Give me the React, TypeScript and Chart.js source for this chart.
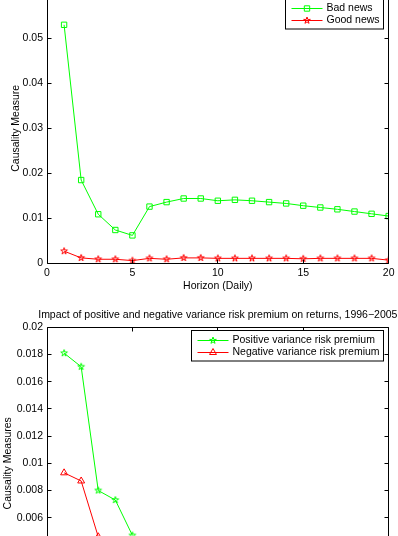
import React, { useEffect, useRef } from "react";
import { Chart, registerables } from "chart.js";

Chart.register(...registerables);

// ---------- data ----------
const horizon = [1, 2, 3, 4, 5, 6, 7, 8, 9, 10, 11, 12, 13, 14, 15, 16, 17, 18, 19, 20];
const badNews = [0.053, 0.0185, 0.0109, 0.0074, 0.0062, 0.0126, 0.0136, 0.0144, 0.0144, 0.0139, 0.0141, 0.0139, 0.0136, 0.0133, 0.0128, 0.0124, 0.012, 0.0115, 0.011, 0.0105];
const goodNews = [0.0027, 0.0012, 0.0009, 0.0009, 0.0006, 0.0011, 0.0009, 0.0012, 0.0012, 0.0011, 0.0011, 0.0011, 0.0011, 0.0011, 0.001, 0.0011, 0.0011, 0.0011, 0.0011, 0.0007];

const horizonPos = [1, 2, 3, 4, 5];
const positiveVRP = [0.0181, 0.0171, 0.008, 0.0073, 0.0047];
const horizonNeg = [1, 2, 3];
const negativeVRP = [0.0093, 0.0087, 0.0046];

const topLabels = { y: "Causality Measure", x: "Horizon (Daily)", series: ["Bad news", "Good news"] };
const bottomLabels = {
  title: "Impact of positive and negative variance risk premium on returns, 1996\u22122005",
  y: "Causality Measures",
  x: "Horizon (Daily)",
  series: ["Positive variance risk premium", "Negative variance risk premium"],
};

// ---------- styling ----------
const FONT = "'Liberation Sans', Arial, Helvetica, sans-serif";
const FS = 10.5;
const GREEN = "#00ff00";
const RED = "#ff0000";
const INK = "#000000";

function pentagramPath(g: CanvasRenderingContext2D, cx: number, cy: number, R: number) {
  const r = R * 0.382;
  g.beginPath();
  for (let i = 0; i < 10; i++) {
    const a = -Math.PI / 2 + (i * Math.PI) / 5;
    const rad = i % 2 === 0 ? R : r;
    const x = cx + rad * Math.cos(a);
    const y = cy + rad * Math.sin(a);
    if (i === 0) g.moveTo(x, y);
    else g.lineTo(x, y);
  }
  g.closePath();
}

function makeStar(color: string, R: number) {
  const s = Math.ceil(2 * R + 3);
  const c = document.createElement("canvas");
  c.width = s;
  c.height = s;
  const g = c.getContext("2d")!;
  g.strokeStyle = color;
  g.lineWidth = 1;
  pentagramPath(g, s / 2, s / 2, R);
  g.stroke();
  return c;
}

function drawMarker(g: CanvasRenderingContext2D, kind: string, x: number, y: number, color: string) {
  g.save();
  g.strokeStyle = color;
  g.lineWidth = 1;
  if (kind === "rect") {
    const r = 3.8 * Math.SQRT1_2;
    g.beginPath();
    g.rect(x - r, y - r, 2 * r, 2 * r);
    g.stroke();
  } else if (kind === "triangle") {
    const R = 4;
    g.beginPath();
    let a = 0;
    for (let i = 0; i < 3; i++) {
      const px = x + Math.sin(a) * R;
      const py = y - Math.cos(a) * R;
      if (i === 0) g.moveTo(px, py);
      else g.lineTo(px, py);
      a += (2 * Math.PI) / 3;
    }
    g.closePath();
    g.stroke();
  } else {
    pentagramPath(g, x, y, 3.5);
    g.stroke();
  }
  g.restore();
}

type LegendItem = { label: string; color: string; marker: string };

function framePlugin(legend: LegendItem[], legendTop: number, title?: string) {
  return {
    id: "matlabFrame",
    afterDraw(chart: any) {
      const { ctx, chartArea: ca, scales } = chart;
      const L = Math.floor(ca.left) + 0.5;
      const R = Math.floor(ca.right) + 0.5;
      const T = Math.floor(ca.top) + 0.5;
      const B = Math.floor(ca.bottom) + 0.5;
      const TL = 4;
      ctx.save();
      ctx.strokeStyle = INK;
      ctx.lineWidth = 1;
      ctx.beginPath();
      ctx.rect(L, T, R - L, B - T);
      ctx.stroke();
      ctx.beginPath();
      scales.x.ticks.forEach((t: any) => {
        const px = Math.floor(scales.x.getPixelForValue(t.value)) + 0.5;
        ctx.moveTo(px, B);
        ctx.lineTo(px, B - TL);
        ctx.moveTo(px, T);
        ctx.lineTo(px, T + TL);
      });
      scales.y.ticks.forEach((t: any) => {
        const py = Math.floor(scales.y.getPixelForValue(t.value)) + 0.5;
        ctx.moveTo(L, py);
        ctx.lineTo(L + TL, py);
        ctx.moveTo(R, py);
        ctx.lineTo(R - TL, py);
      });
      ctx.stroke();

      // legend
      ctx.font = `${FS}px ${FONT}`;
      const textW = Math.max(...legend.map((i) => ctx.measureText(i.label).width));
      const right = Math.floor(ca.right - 5) + 0.5;
      const left = Math.floor(right - (41 + textW + 4)) + 0.5;
      const top = Math.floor(ca.top + legendTop) + 0.5;
      const rowH = 12.5;
      const h = 18 + rowH * (legend.length - 1);
      ctx.fillStyle = "#ffffff";
      ctx.fillRect(left, top, right - left, h);
      ctx.strokeStyle = INK;
      ctx.strokeRect(left, top, right - left, h);
      legend.forEach((it, i) => {
        const y = Math.round(top + 9 + i * rowH) + 0.5;
        ctx.strokeStyle = it.color;
        ctx.beginPath();
        ctx.moveTo(left + 6, y);
        ctx.lineTo(left + 37, y);
        ctx.stroke();
        drawMarker(ctx, it.marker, left + 21.5, y, it.color);
        ctx.fillStyle = INK;
        ctx.textAlign = "left";
        ctx.textBaseline = "middle";
        ctx.fillText(it.label, left + 41, y);
      });

      if (title) {
        ctx.fillStyle = INK;
        ctx.font = `${FS}px ${FONT}`;
        ctx.textAlign = "center";
        ctx.textBaseline = "middle";
        ctx.fillText(title, (ca.left + ca.right) / 2, 15);
      }
      ctx.restore();
    },
  };
}

const tickFmt = (v: any) => {
  const n = Number(v);
  if (Math.abs(n) < 1e-12) return "0";
  return String(parseFloat(n.toFixed(4)));
};

function baseScales(yMax: number, yStep: number, yTitle: string, xTitle: string, yTitlePad: number) {
  const font = { family: FONT, size: FS };
  return {
    x: {
      type: "linear",
      min: 0,
      max: 20,
      ticks: { stepSize: 5, padding: 3.5, font, color: INK, maxRotation: 0 },
      grid: { display: false, drawTicks: false },
      border: { display: false },
      title: { display: true, text: xTitle, font, color: INK, padding: { top: 0, bottom: 7.5 } },
      afterFit: (s: any) => {
        s.height = 36.7;
      },
    },
    y: {
      type: "linear",
      min: 0,
      max: yMax,
      ticks: { stepSize: yStep, padding: 4, font, color: INK, callback: tickFmt },
      grid: { display: false, drawTicks: false },
      border: { display: false },
      title: { display: true, text: yTitle, font, color: INK, padding: { top: yTitlePad, bottom: 0 } },
      afterFit: (s: any) => {
        s.width = 47;
      },
    },
  };
}

function topConfig(): any {
  return {
    type: "line",
    data: {
      datasets: [
        {
          label: topLabels.series[0],
          data: horizon.map((x, i) => ({ x, y: badNews[i] })),
          borderColor: GREEN,
          borderWidth: 1,
          pointStyle: "rect",
          pointRadius: 3.8,
          pointBorderColor: GREEN,
          pointBackgroundColor: "rgba(0,0,0,0)",
          pointBorderWidth: 1,
          tension: 0,
        },
        {
          label: topLabels.series[1],
          data: horizon.map((x, i) => ({ x, y: goodNews[i] })),
          borderColor: RED,
          borderWidth: 1,
          pointStyle: makeStar(RED, 3.5),
          pointRadius: 3.5,
          pointBorderColor: RED,
          pointBackgroundColor: "rgba(0,0,0,0)",
          tension: 0,
        },
      ],
    },
    options: {
      animation: false,
      responsive: false,
      events: [],
      layout: { padding: { top: 20.3, right: 9, bottom: 0, left: 0 } },
      plugins: { legend: { display: false }, tooltip: { enabled: false }, title: { display: false } },
      scales: baseScales(0.06, 0.01, topLabels.y, topLabels.x, 9.7),
    },
    plugins: [
      framePlugin(
        [
          { label: topLabels.series[0], color: GREEN, marker: "rect" },
          { label: topLabels.series[1], color: RED, marker: "star" },
        ],
        5.2
      ),
    ],
  };
}

function bottomConfig(): any {
  return {
    type: "line",
    data: {
      datasets: [
        {
          label: bottomLabels.series[0],
          data: horizonPos.map((x, i) => ({ x, y: positiveVRP[i] })),
          borderColor: GREEN,
          borderWidth: 1,
          pointStyle: makeStar(GREEN, 3.5),
          pointRadius: 3.5,
          pointBorderColor: GREEN,
          pointBackgroundColor: "rgba(0,0,0,0)",
          tension: 0,
        },
        {
          label: bottomLabels.series[1],
          data: horizonNeg.map((x, i) => ({ x, y: negativeVRP[i] })),
          borderColor: RED,
          borderWidth: 1,
          pointStyle: "triangle",
          pointRadius: 4,
          pointBorderColor: RED,
          pointBackgroundColor: "rgba(0,0,0,0)",
          pointBorderWidth: 1,
          tension: 0,
        },
      ],
    },
    options: {
      animation: false,
      responsive: false,
      events: [],
      layout: { padding: { top: 27.3, right: 9, bottom: 0, left: 0 } },
      plugins: { legend: { display: false }, tooltip: { enabled: false }, title: { display: false } },
      scales: baseScales(0.02, 0.002, bottomLabels.y, bottomLabels.x, 1.8),
    },
    plugins: [
      framePlugin(
        [
          { label: bottomLabels.series[0], color: GREEN, marker: "star" },
          { label: bottomLabels.series[1], color: RED, marker: "triangle" },
        ],
        3.4,
        bottomLabels.title
      ),
    ],
  };
}

function ChartCanvas({ make, top, height }: { make: () => any; top: number; height: number }) {
  const ref = useRef<HTMLCanvasElement | null>(null);
  useEffect(() => {
    if (!ref.current) return;
    const chart = new Chart(ref.current, make());
    return () => chart.destroy();
  }, []);
  return (
    <canvas
      ref={ref}
      width={398}
      height={height}
      style={{ position: "absolute", left: 0, top, width: 398, height, display: "block" }}
    />
  );
}

export default function App() {
  return (
    <div
      style={{
        position: "fixed",
        left: 0,
        top: 0,
        width: 398,
        height: 536,
        overflow: "hidden",
        background: "#ffffff",
      }}
    >
      <ChartCanvas make={topConfig} top={-27} height={327} />
      <ChartCanvas make={bottomConfig} top={300} height={336} />
    </div>
  );
}
